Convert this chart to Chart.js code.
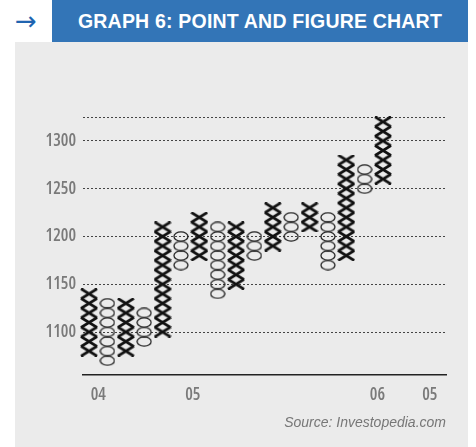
<!DOCTYPE html>
<html>
<head>
<meta charset="utf-8">
<script src="https://cdn.jsdelivr.net/npm/chart.js@4.4.1/dist/chart.umd.min.js"></script>
<style>
  html, body { margin: 0; padding: 0; background: #fff; }
  body { width: 476px; height: 447px; position: relative; overflow: hidden; font-family: "Liberation Sans", Arial, sans-serif; }
  #panel { position: absolute; left: 15px; top: 42px; width: 453px; height: 405px; background: #ebebeb; }
  #head { position: absolute; left: 52px; top: 0; width: 416px; height: 42px; background: #3375b7; color: #fff;
          font-weight: bold; font-size: 19.5px; line-height: 42px; text-align: center; letter-spacing: 0.2px; }
  #arrow { position: absolute; left: 15px; top: 7px; font-size: 26px; line-height: 28px; color: #2064b0; font-family: "DejaVu Sans", sans-serif; }
  #source { position: absolute; right: 30px; top: 414px; font-size: 14px; font-style: italic; color: #777; }
  #wrap { position: absolute; left: 0; top: 0; width: 476px; height: 447px; }
</style>
</head>
<body>
<div id="panel"></div>
<div id="head">GRAPH 6: POINT AND FIGURE CHART</div>
<div id="arrow">→</div>
<div id="wrap"><canvas id="pf" width="476" height="447"></canvas></div>
<div id="source">Source: Investopedia.com</div>
<script>
// point & figure columns, box size 10
const boxSize = 10
const columnType = ['X', 'O', 'X', 'O', 'X', 'O', 'X', 'O', 'X', 'O', 'X', 'O', 'X', 'O', 'X', 'O', 'X']
const columnLow  = [1080, 1070, 1080, 1090, 1100, 1170, 1180, 1140, 1150, 1180, 1190, 1200, 1210, 1170, 1180, 1250, 1260]
const columnHigh = [1140, 1130, 1130, 1120, 1210, 1200, 1220, 1210, 1210, 1200, 1230, 1220, 1230, 1220, 1280, 1270, 1320]

const yTicks = [1100, 1150, 1200, 1250, 1300, 1325]
const yLabels = ['1100', '1150', '1200', '1250', '1300', '']
const xTickPos = [0.5, 5.65, 15.7, 18.55]
const xLabels = ['04', '05', '06', '05']

function boxes(kind) {
  const pts = []
  columnType.forEach((t, i) => {
    if (t !== kind) return
    for (let v = columnLow[i]; v <= columnHigh[i]; v += boxSize) pts.push({ x: i, y: v })
  })
  return pts
}

// marker images
function xMark() {
  const c = document.createElement('canvas')
  c.width = 18; c.height = 11
  const g = c.getContext('2d')
  g.strokeStyle = '#111'
  g.lineWidth = 2.7
  g.beginPath()
  g.moveTo(1, 0.5); g.lineTo(17, 10.5)
  g.moveTo(17, 0.5); g.lineTo(1, 10.5)
  g.stroke()
  return c
}
function oMark() {
  const c = document.createElement('canvas')
  c.width = 16; c.height = 11
  const g = c.getContext('2d')
  g.strokeStyle = '#222'
  g.lineWidth = 1.3
  g.beginPath()
  g.ellipse(8, 5.5, 7, 4.7, 0, 0, Math.PI * 2)
  g.stroke()
  return c
}

// condensed face through the font shorthand
const tickFont = { family: "'Open Sans', sans-serif", size: 17, weight: '600 condensed' }

new Chart(document.getElementById('pf'), {
  type: 'scatter',
  data: {
    datasets: [
      { label: 'X', data: boxes('X'), pointStyle: xMark(), pointRadius: 5, clip: false },
      { label: 'O', data: boxes('O'), pointStyle: oMark(), pointRadius: 5, clip: false }
    ]
  },
  options: {
    responsive: false,
    animation: false,
    layout: { padding: { left: 15, right: 30, top: 117, bottom: 32 } },
    plugins: { legend: { display: false }, tooltip: { enabled: false } },
    scales: {
      x: {
        type: 'linear',
        min: -0.33,
        max: 19.43,
        afterBuildTicks: (s) => { s.ticks = xTickPos.map(v => ({ value: v })) },
        afterFit: (s) => { s.height = 40 },
        ticks: {
          autoSkip: false,
          maxRotation: 0,
          padding: 10,
          color: '#7a7a7a',
          font: tickFont,
          callback: (v, i) => xLabels[i]
        },
        grid: { display: false, drawTicks: false },
        border: { display: true, color: '#222', width: 1.5 }
      },
      y: {
        min: 1055,
        max: 1325,
        afterBuildTicks: (s) => { s.ticks = yTicks.map(v => ({ value: v })) },
        afterFit: (s) => { s.width = 68 },
        ticks: {
          autoSkip: false,
          padding: 7,
          color: '#7a7a7a',
          font: tickFont,
          callback: (v, i) => yLabels[i]
        },
        grid: { color: '#444', lineWidth: 1, drawTicks: false },
        border: { display: false, dash: [2, 2] }
      }
    }
  }
})
</script>
</body>
</html>
